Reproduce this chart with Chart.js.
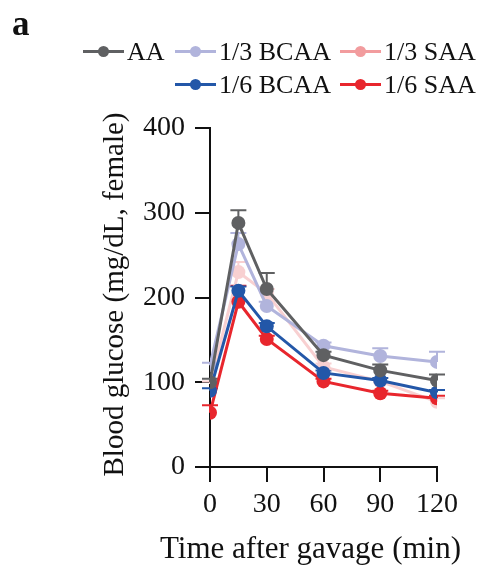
<!DOCTYPE html>
<html>
<head>
<meta charset="utf-8">
<script src="https://cdn.jsdelivr.net/npm/chart.js@4.4.1/dist/chart.umd.min.js"></script>
<style>
    html, body { margin: 0; padding: 0; background: #fff; }
    #wrap { position: relative; width: 481px; height: 567px; }
    #grafico { position: absolute; left: 0; top: 0; }
    #painel { position: absolute; left: 12px; top: 4px; font: bold 35px "Liberation Serif", serif; color: #111; }
    #legenda {
        position: absolute; left: 83px; top: 35px;
        display: grid; grid-template-columns: 92px 165px auto; grid-auto-rows: 33px;
        font: 26px "Liberation Serif", serif; color: #111;
    }
    .item { display: flex; align-items: center; white-space: nowrap; }
    .marca { position: relative; width: 41px; height: 12px; margin-right: 3px; }
    .marca .linha { position: absolute; left: 0; right: 0; top: 4.5px; height: 3px; }
    .marca .ponto { position: absolute; left: 15px; top: 0px; width: 11px; height: 11px; border-radius: 50%; }
</style>
</head>
<body>
<div id="wrap">
    <canvas id="grafico" width="481" height="567"></canvas>
    <div id="painel">a</div>
    <div id="legenda"></div>
</div>
<script>
const tempos = [0, 15, 30, 60, 90, 120];
const ticksX = [0, 30, 60, 90, 120];

const aa = [100, 288, 210, 132, 114, 102];
const aaErro = [4, 15, 19, 4, 7, 7];
const bcaa13 = [120, 263, 190, 143, 131, 124];
const bcaa13Erro = [3, 13, 5, 4, 9, 12];
const saa13 = [98, 230, 205, 118, 101, 77];
const saa13Erro = [3, 12, 5, 4, 4, 4];
const bcaa16 = [90, 208, 166, 111, 102, 88];
const bcaa16Erro = [3, 5, 4, 3, 3, 3];
const saa16 = [64, 195, 151, 101, 87, 81];
const saa16Erro = [9, 19, 4, 3, 3, 3];

const nomes = ["AA", "1/3 BCAA", "1/3 SAA", "1/6 BCAA", "1/6 SAA"];
const coresLegenda = ["#5f6062", "#b1b4dc", "#f29c9e", "#2357a8", "#e8262d"];
const coresLinha = ["#5f6062", "#b1b4dc", "#f8d0d1", "#2357a8", "#e8262d"];

const tituloX = "Time after gavage (min)";
const tituloY = "Blood glucose (mg/dL, female)";

// posição de cada item na grade da legenda (linha, coluna)
const gradeLegenda = [[1, 1], [1, 2], [1, 3], [2, 2], [2, 3]];

const series = [aa, bcaa13, saa13, bcaa16, saa16];
const erros = [aaErro, bcaa13Erro, saa13Erro, bcaa16Erro, saa16Erro];
// ordem de desenho: o primeiro fica por cima
const ordem = [0, 3, 4, 1, 2];

const legenda = document.getElementById("legenda");
nomes.forEach((nome, i) => {
    const item = document.createElement("div");
    item.className = "item";
    item.style.gridRow = gradeLegenda[i][0];
    item.style.gridColumn = gradeLegenda[i][1];
    item.innerHTML = '<span class="marca"><span class="linha" style="background:' + coresLegenda[i] +
        '"></span><span class="ponto" style="background:' + coresLegenda[i] + '"></span></span>' + nome;
    legenda.appendChild(item);
});

const fonteSerif = "'Liberation Serif', 'Times New Roman', serif";

const barrasErro = {
    id: "barrasErro",
    beforeDatasetsDraw(chart) {
        const ctx = chart.ctx;
        const x = chart.scales.x;
        const y = chart.scales.y;
        ctx.save();
        ctx.lineWidth = 2;
        for (let k = ordem.length - 1; k >= 0; k--) {
            const s = ordem[k];
            ctx.strokeStyle = coresLinha[s];
            tempos.forEach((t, j) => {
                const px = x.getPixelForValue(t);
                const py = y.getPixelForValue(series[s][j]);
                const topo = y.getPixelForValue(series[s][j] + erros[s][j]);
                ctx.beginPath();
                ctx.moveTo(px, py);
                ctx.lineTo(px, topo);
                ctx.moveTo(px - 8, topo);
                ctx.lineTo(px + 8, topo);
                ctx.stroke();
            });
        }
        ctx.restore();
    }
};

// títulos dos eixos sem o maxWidth do Chart.js (que comprime o texto)
const titulosEixos = {
    id: "titulosEixos",
    afterDraw(chart) {
        const ctx = chart.ctx;
        const area = chart.chartArea;
        ctx.save();
        ctx.fillStyle = "#111";
        ctx.textAlign = "center";
        ctx.textBaseline = "alphabetic";
        ctx.font = "31px " + fonteSerif;
        ctx.fillText(tituloX, (area.left + area.right) / 2 - 13, area.bottom + 91);
        ctx.translate(area.left - 87, (area.top + area.bottom) / 2 - 3);
        ctx.rotate(-Math.PI / 2);
        ctx.font = "29px " + fonteSerif;
        ctx.fillText(tituloY, 0, 0);
        ctx.restore();
    }
};

new Chart(document.getElementById("grafico"), {
    type: "line",
    data: {
        datasets: ordem.map(s => ({
            label: nomes[s],
            data: tempos.map((t, j) => ({ x: t, y: series[s][j] })),
            borderColor: coresLinha[s],
            backgroundColor: coresLinha[s],
            borderWidth: 3,
            pointRadius: 7,
            pointHoverRadius: 7,
            pointBorderWidth: 0,
            tension: 0
        }))
    },
    options: {
        responsive: false,
        animation: false,
        layout: { padding: { left: 114, right: 44, top: 128, bottom: 0 } },
        plugins: { legend: { display: false }, tooltip: { enabled: false } },
        scales: {
            x: {
                type: "linear",
                min: 0,
                max: 120,
                afterBuildTicks: scale => { scale.ticks = ticksX.map(v => ({ value: v })); },
                afterFit: scale => { scale.height = 100; },
                border: { color: "#111", width: 2 },
                grid: { display: true, drawOnChartArea: false, drawTicks: true, tickLength: 15, color: "#111", lineWidth: 2 },
                ticks: { color: "#111", font: { family: fonteSerif, size: 28 }, padding: 6, maxRotation: 0 }
            },
            y: {
                min: 0,
                max: 400,
                afterFit: scale => { scale.width = 96; },
                border: { color: "#111", width: 2 },
                grid: { display: true, drawOnChartArea: false, drawTicks: true, tickLength: 15, color: "#111", lineWidth: 2 },
                ticks: { stepSize: 100, color: "#111", font: { family: fonteSerif, size: 28 }, padding: 10 }
            }
        }
    },
    plugins: [barrasErro, titulosEixos]
});
</script>
</body>
</html>
